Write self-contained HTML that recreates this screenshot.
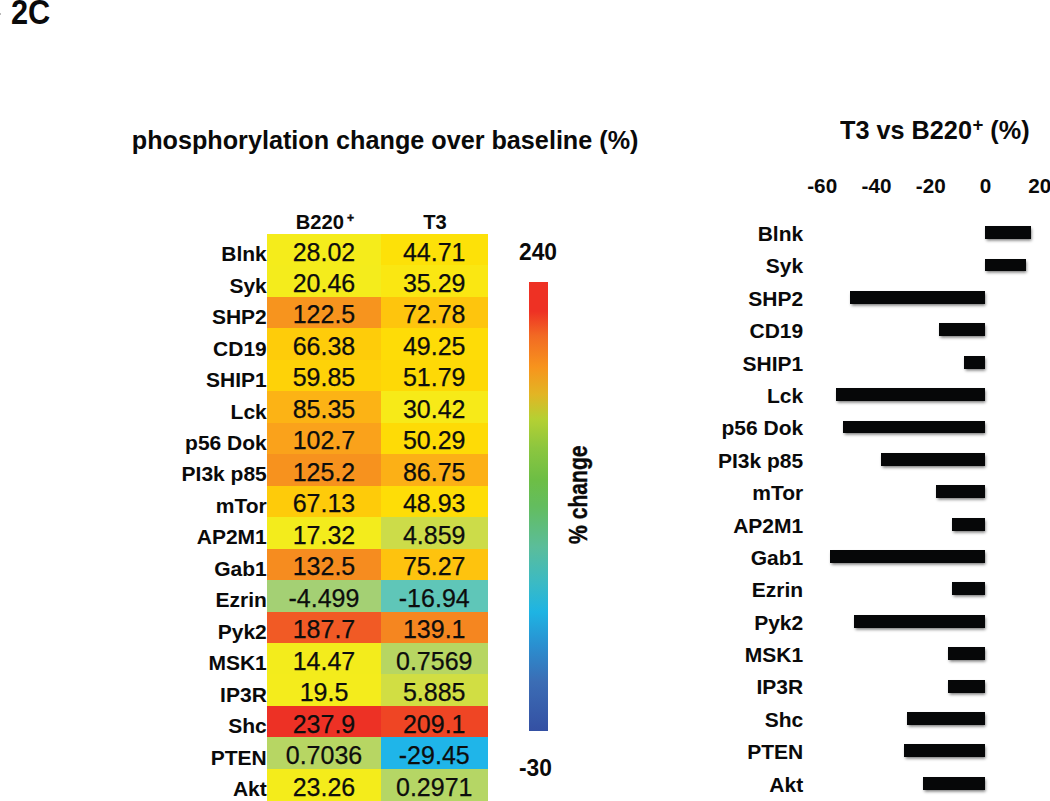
<!DOCTYPE html>
<html lang="en"><head><meta charset="utf-8"><title>Figure 2C</title>
<style>
html,body{margin:0;padding:0;background:#fff;}
body{width:1050px;height:801px;position:relative;overflow:hidden;font-family:"Liberation Sans",Arial,sans-serif;color:#0a0a0a;}
.abs{position:absolute;white-space:nowrap;line-height:1;}
.b{font-weight:bold;}
.cell{position:absolute;}
.num{position:absolute;white-space:nowrap;font-size:25px;line-height:25px;text-align:center;color:#0d0d0d;-webkit-text-stroke:0.25px #0d0d0d;}
.lab{position:absolute;white-space:nowrap;font-size:21px;line-height:21px;font-weight:bold;text-align:right;color:#0a0a0a;}
.bar{position:absolute;background:#060708;box-shadow:0.5px 2.3px 3px rgba(0,0,0,.55);}
sup{font-size:62%;line-height:0;vertical-align:baseline;position:relative;top:-0.42em;}
</style></head><body>

<div class="abs b" id="fig" style="left:10.9px;top:-5.3px;font-size:34.6px;transform-origin:0 0;transform:scaleX(.89);">2C</div>
<div class="abs" style="left:0;top:13px;width:1px;height:2px;background:#bbb;"></div>
<div class="abs b" id="title" style="left:131.8px;top:128.3px;font-size:25.2px;">phosphorylation change over baseline (%)</div>
<div class="abs b" id="h1" style="left:267.4px;top:211.6px;width:113.2px;text-align:center;font-size:20.2px;margin-left:0.9px;">B220<sup style="margin-left:3.0px;font-size:60%;top:-0.54em;-webkit-text-stroke:0.45px #0a0a0a">+</sup></div>
<div class="abs b" id="h2" style="left:380.6px;top:211.6px;width:107.3px;text-align:center;font-size:20.2px;margin-left:0.7px;">T3</div>
<div class="cell" style="left:267.4px;top:233.75px;width:113.7px;height:32.08px;background:#f5ec1b"></div>
<div class="cell" style="left:380.6px;top:233.75px;width:107.3px;height:32.08px;background:#fde108"></div>
<div class="cell" style="left:267.4px;top:265.23px;width:113.7px;height:32.08px;background:#f4ec1c"></div>
<div class="cell" style="left:380.6px;top:265.23px;width:107.3px;height:32.08px;background:#fae712"></div>
<div class="cell" style="left:267.4px;top:296.71px;width:113.7px;height:32.08px;background:#f7941e"></div>
<div class="cell" style="left:380.6px;top:296.71px;width:107.3px;height:32.08px;background:#fec50d"></div>
<div class="cell" style="left:267.4px;top:328.19px;width:113.7px;height:32.08px;background:#fecc0a"></div>
<div class="cell" style="left:380.6px;top:328.19px;width:107.3px;height:32.08px;background:#fedc07"></div>
<div class="cell" style="left:267.4px;top:359.67px;width:113.7px;height:32.08px;background:#fed208"></div>
<div class="cell" style="left:380.6px;top:359.67px;width:107.3px;height:32.08px;background:#fed906"></div>
<div class="cell" style="left:267.4px;top:391.15px;width:113.7px;height:32.08px;background:#fcb315"></div>
<div class="cell" style="left:380.6px;top:391.15px;width:107.3px;height:32.08px;background:#f7ea18"></div>
<div class="cell" style="left:267.4px;top:422.63px;width:113.7px;height:32.08px;background:#faa21b"></div>
<div class="cell" style="left:380.6px;top:422.63px;width:107.3px;height:32.08px;background:#fedb06"></div>
<div class="cell" style="left:267.4px;top:454.11px;width:113.7px;height:32.08px;background:#f7921e"></div>
<div class="cell" style="left:380.6px;top:454.11px;width:107.3px;height:32.08px;background:#fcb016"></div>
<div class="cell" style="left:267.4px;top:485.59px;width:113.7px;height:32.08px;background:#fecb0a"></div>
<div class="cell" style="left:380.6px;top:485.59px;width:107.3px;height:32.08px;background:#fedd07"></div>
<div class="cell" style="left:267.4px;top:517.07px;width:113.7px;height:32.08px;background:#f3ec1c"></div>
<div class="cell" style="left:380.6px;top:517.07px;width:107.3px;height:32.08px;background:#ccdc49"></div>
<div class="cell" style="left:267.4px;top:548.55px;width:113.7px;height:32.08px;background:#f68c1f"></div>
<div class="cell" style="left:380.6px;top:548.55px;width:107.3px;height:32.08px;background:#fec30e"></div>
<div class="cell" style="left:267.4px;top:580.03px;width:113.7px;height:32.08px;background:#a4d074"></div>
<div class="cell" style="left:380.6px;top:580.03px;width:107.3px;height:32.08px;background:#5fc6b8"></div>
<div class="cell" style="left:267.4px;top:611.51px;width:113.7px;height:32.08px;background:#f15a25"></div>
<div class="cell" style="left:380.6px;top:611.51px;width:107.3px;height:32.08px;background:#f58620"></div>
<div class="cell" style="left:267.4px;top:642.99px;width:113.7px;height:32.08px;background:#f3ec1c"></div>
<div class="cell" style="left:380.6px;top:642.99px;width:107.3px;height:32.08px;background:#b7d662"></div>
<div class="cell" style="left:267.4px;top:674.47px;width:113.7px;height:32.08px;background:#f4ec1c"></div>
<div class="cell" style="left:380.6px;top:674.47px;width:107.3px;height:32.08px;background:#d1de43"></div>
<div class="cell" style="left:267.4px;top:705.95px;width:113.7px;height:32.08px;background:#ed3125"></div>
<div class="cell" style="left:380.6px;top:705.95px;width:107.3px;height:32.08px;background:#ef4524"></div>
<div class="cell" style="left:267.4px;top:737.43px;width:113.7px;height:32.08px;background:#b7d663"></div>
<div class="cell" style="left:380.6px;top:737.43px;width:107.3px;height:32.08px;background:#1fb5e9"></div>
<div class="cell" style="left:267.4px;top:768.91px;width:113.7px;height:32.09px;background:#f4ec1b"></div>
<div class="cell" style="left:380.6px;top:768.91px;width:107.3px;height:32.09px;background:#b5d665"></div>
<div class="lab" style="left:67px;width:199.8px;top:243.10px">Blnk</div>
<div class="num" style="left:267.4px;width:113.2px;top:239.50px">28.02</div>
<div class="num" style="left:380.6px;width:107.3px;top:239.50px">44.71</div>
<div class="lab" style="left:67px;width:199.8px;top:274.58px">Syk</div>
<div class="num" style="left:267.4px;width:113.2px;top:270.98px">20.46</div>
<div class="num" style="left:380.6px;width:107.3px;top:270.98px">35.29</div>
<div class="lab" style="left:67px;width:199.8px;top:306.06px">SHP2</div>
<div class="num" style="left:267.4px;width:113.2px;top:302.46px">122.5</div>
<div class="num" style="left:380.6px;width:107.3px;top:302.46px">72.78</div>
<div class="lab" style="left:67px;width:199.8px;top:337.54px">CD19</div>
<div class="num" style="left:267.4px;width:113.2px;top:333.94px">66.38</div>
<div class="num" style="left:380.6px;width:107.3px;top:333.94px">49.25</div>
<div class="lab" style="left:67px;width:199.8px;top:369.02px">SHIP1</div>
<div class="num" style="left:267.4px;width:113.2px;top:365.42px">59.85</div>
<div class="num" style="left:380.6px;width:107.3px;top:365.42px">51.79</div>
<div class="lab" style="left:67px;width:199.8px;top:400.50px">Lck</div>
<div class="num" style="left:267.4px;width:113.2px;top:396.90px">85.35</div>
<div class="num" style="left:380.6px;width:107.3px;top:396.90px">30.42</div>
<div class="lab" style="left:67px;width:199.8px;top:431.98px">p56 Dok</div>
<div class="num" style="left:267.4px;width:113.2px;top:428.38px">102.7</div>
<div class="num" style="left:380.6px;width:107.3px;top:428.38px">50.29</div>
<div class="lab" style="left:67px;width:199.8px;top:463.46px">PI3k p85</div>
<div class="num" style="left:267.4px;width:113.2px;top:459.86px">125.2</div>
<div class="num" style="left:380.6px;width:107.3px;top:459.86px">86.75</div>
<div class="lab" style="left:67px;width:199.8px;top:494.94px">mTor</div>
<div class="num" style="left:267.4px;width:113.2px;top:491.34px">67.13</div>
<div class="num" style="left:380.6px;width:107.3px;top:491.34px">48.93</div>
<div class="lab" style="left:67px;width:199.8px;top:526.42px">AP2M1</div>
<div class="num" style="left:267.4px;width:113.2px;top:522.82px">17.32</div>
<div class="num" style="left:380.6px;width:107.3px;top:522.82px">4.859</div>
<div class="lab" style="left:67px;width:199.8px;top:557.90px">Gab1</div>
<div class="num" style="left:267.4px;width:113.2px;top:554.30px">132.5</div>
<div class="num" style="left:380.6px;width:107.3px;top:554.30px">75.27</div>
<div class="lab" style="left:67px;width:199.8px;top:589.38px">Ezrin</div>
<div class="num" style="left:267.4px;width:113.2px;top:585.78px">-4.499</div>
<div class="num" style="left:380.6px;width:107.3px;top:585.78px">-16.94</div>
<div class="lab" style="left:67px;width:199.8px;top:620.86px">Pyk2</div>
<div class="num" style="left:267.4px;width:113.2px;top:617.26px">187.7</div>
<div class="num" style="left:380.6px;width:107.3px;top:617.26px">139.1</div>
<div class="lab" style="left:67px;width:199.8px;top:652.34px">MSK1</div>
<div class="num" style="left:267.4px;width:113.2px;top:648.74px">14.47</div>
<div class="num" style="left:380.6px;width:107.3px;top:648.74px">0.7569</div>
<div class="lab" style="left:67px;width:199.8px;top:683.82px">IP3R</div>
<div class="num" style="left:267.4px;width:113.2px;top:680.22px">19.5</div>
<div class="num" style="left:380.6px;width:107.3px;top:680.22px">5.885</div>
<div class="lab" style="left:67px;width:199.8px;top:715.30px">Shc</div>
<div class="num" style="left:267.4px;width:113.2px;top:711.70px">237.9</div>
<div class="num" style="left:380.6px;width:107.3px;top:711.70px">209.1</div>
<div class="lab" style="left:67px;width:199.8px;top:746.78px">PTEN</div>
<div class="num" style="left:267.4px;width:113.2px;top:743.18px">0.7036</div>
<div class="num" style="left:380.6px;width:107.3px;top:743.18px">-29.45</div>
<div class="lab" style="left:67px;width:199.8px;top:778.26px">Akt</div>
<div class="num" style="left:267.4px;width:113.2px;top:774.66px">23.26</div>
<div class="num" style="left:380.6px;width:107.3px;top:774.66px">0.2971</div>
<div class="abs" style="left:528.8px;top:282.2px;width:19.1px;height:448.7px;background:linear-gradient(to bottom,#ee3124 0%,#ee3124 6.5%,#f26a23 12%,#f7941d 19%,#e2b524 25%,#b5d033 30.5%,#8cc63f 37%,#6dbe45 44%,#63bd5f 50%,#5bbd9a 59%,#3bbac4 67%,#1eb4e3 73.5%,#2a8fd0 81%,#3b6db5 89%,#3450a3 100%);"></div>
<div class="abs b" id="c240" style="left:519.4px;top:239.5px;font-size:24.5px;transform-origin:0 0;transform:scaleX(.93);">240</div>
<div class="abs b" id="cm30" style="left:518.9px;top:755.8px;font-size:24.5px;transform-origin:0 0;transform:scaleX(.93);">-30</div>
<div class="abs b" id="pch" style="-webkit-text-stroke:0.4px #0a0a0a;left:566.2px;top:543.5px;font-size:25px;line-height:25px;transform-origin:0 0;transform:rotate(-90deg) scaleX(.845);">% change</div>
<div class="abs b" id="rt" style="left:839.5px;top:118.2px;font-size:25.1px;transform-origin:0 0;transform:scaleX(1.006);">T3 vs B220<sup style="font-size:74%;top:-0.455em;margin-left:0.5px">+</sup> (%)</div>
<div class="abs b" style="left:822.2px;top:175.6px;width:60px;margin-left:-30px;text-align:center;font-size:20.7px;">-60</div>
<div class="abs b" style="left:876.5px;top:175.6px;width:60px;margin-left:-30px;text-align:center;font-size:20.7px;">-40</div>
<div class="abs b" style="left:930.8px;top:175.6px;width:60px;margin-left:-30px;text-align:center;font-size:20.7px;">-20</div>
<div class="abs b" style="left:985.4px;top:175.6px;width:60px;margin-left:-30px;text-align:center;font-size:20.7px;">0</div>
<div class="abs b" style="left:1039.7px;top:175.6px;width:60px;margin-left:-30px;text-align:center;font-size:20.7px;">20</div>
<div class="bar" style="left:985.4px;top:226.20px;width:45.3px;height:12.9px"></div>
<div class="lab" style="left:650px;width:153.2px;top:223.00px">Blnk</div>
<div class="bar" style="left:985.4px;top:258.59px;width:40.3px;height:12.9px"></div>
<div class="lab" style="left:650px;width:153.2px;top:255.39px">Syk</div>
<div class="bar" style="left:850.4px;top:290.98px;width:135.0px;height:12.9px"></div>
<div class="lab" style="left:650px;width:153.2px;top:287.78px">SHP2</div>
<div class="bar" style="left:938.9px;top:323.37px;width:46.5px;height:12.9px"></div>
<div class="lab" style="left:650px;width:153.2px;top:320.17px">CD19</div>
<div class="bar" style="left:963.5px;top:355.76px;width:21.9px;height:12.9px"></div>
<div class="lab" style="left:650px;width:153.2px;top:352.56px">SHIP1</div>
<div class="bar" style="left:836.3px;top:388.15px;width:149.1px;height:12.9px"></div>
<div class="lab" style="left:650px;width:153.2px;top:384.95px">Lck</div>
<div class="bar" style="left:843.1px;top:420.54px;width:142.3px;height:12.9px"></div>
<div class="lab" style="left:650px;width:153.2px;top:417.34px">p56 Dok</div>
<div class="bar" style="left:881.0px;top:452.93px;width:104.4px;height:12.9px"></div>
<div class="lab" style="left:650px;width:153.2px;top:449.73px">PI3k p85</div>
<div class="bar" style="left:936.0px;top:485.32px;width:49.4px;height:12.9px"></div>
<div class="lab" style="left:650px;width:153.2px;top:482.12px">mTor</div>
<div class="bar" style="left:951.6px;top:517.71px;width:33.8px;height:12.9px"></div>
<div class="lab" style="left:650px;width:153.2px;top:514.51px">AP2M1</div>
<div class="bar" style="left:830.0px;top:550.10px;width:155.4px;height:12.9px"></div>
<div class="lab" style="left:650px;width:153.2px;top:546.90px">Gab1</div>
<div class="bar" style="left:951.6px;top:582.49px;width:33.8px;height:12.9px"></div>
<div class="lab" style="left:650px;width:153.2px;top:579.29px">Ezrin</div>
<div class="bar" style="left:853.5px;top:614.88px;width:131.9px;height:12.9px"></div>
<div class="lab" style="left:650px;width:153.2px;top:611.68px">Pyk2</div>
<div class="bar" style="left:948.2px;top:647.27px;width:37.2px;height:12.9px"></div>
<div class="lab" style="left:650px;width:153.2px;top:644.07px">MSK1</div>
<div class="bar" style="left:948.4px;top:679.66px;width:37.0px;height:12.9px"></div>
<div class="lab" style="left:650px;width:153.2px;top:676.46px">IP3R</div>
<div class="bar" style="left:907.2px;top:712.05px;width:78.2px;height:12.9px"></div>
<div class="lab" style="left:650px;width:153.2px;top:708.85px">Shc</div>
<div class="bar" style="left:903.5px;top:744.44px;width:81.9px;height:12.9px"></div>
<div class="lab" style="left:650px;width:153.2px;top:741.24px">PTEN</div>
<div class="bar" style="left:923.1px;top:776.83px;width:62.3px;height:12.9px"></div>
<div class="lab" style="left:650px;width:153.2px;top:773.63px">Akt</div>
</body></html>
